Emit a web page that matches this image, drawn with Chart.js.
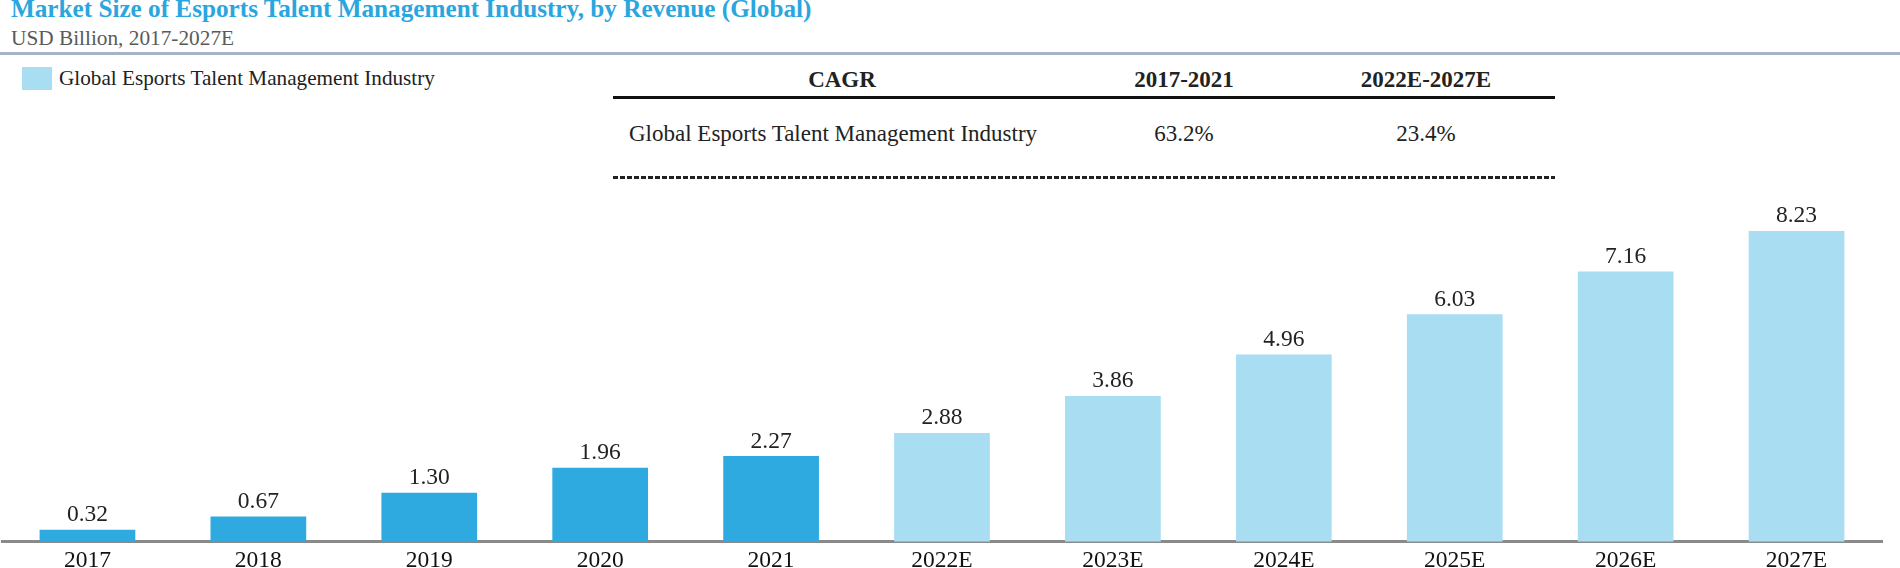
<!DOCTYPE html>
<html>
<head>
<meta charset="utf-8">
<script src="https://cdn.jsdelivr.net/npm/chart.js@4.4.0/dist/chart.umd.min.js"></script>
<style>
  body { margin: 0; width: 1900px; height: 568px; overflow: hidden; background: #fff; position: relative;
         font-family: "Liberation Serif", "Times New Roman", serif; }
  .abs { position: absolute; white-space: nowrap; }
  #title { left: 11px; top: -5px; font-size: 25.2px; font-weight: bold; color: #2aa6df; }
  #subtitle { left: 11px; top: 26px; font-size: 21.3px; color: #5a5a5a; }
  #rule { left: 0; top: 52px; width: 1900px; height: 3px; background: #a4b2ca; }
  #legendBox { left: 22px; top: 67px; width: 30px; height: 23px; background: #a8ddf2; }
  #legendText { left: 59px; top: 66px; font-size: 21.2px; color: #222; }
  #cagr { left: 613px; top: 64px; width: 942px; border-collapse: collapse; font-size: 23px; color: #222; }
  #cagr th { font-weight: bold; height: 32px; padding: 0; border-bottom: 3px solid #111; }
  #cagr td { height: 70px; padding: 0; }
  #dots { left: 613px; top: 176px; width: 942px; height: 3px;
          background: repeating-linear-gradient(90deg, #222 0 5px, transparent 5px 7px); }
  #chart { position: absolute; left: 0; top: 180px; }
</style>
</head>
<body>
<div id="title" class="abs"></div>
<div id="subtitle" class="abs"></div>
<div id="rule" class="abs"></div>
<div id="legendBox" class="abs"></div>
<div id="legendText" class="abs"></div>
<table id="cagr" class="abs"></table>
<div id="dots" class="abs"></div>
<canvas id="chart" width="1900" height="398"></canvas>

<script>
// --- Datos ---
const chartTitle = "Market Size of Esports Talent Management Industry, by Revenue (Global)";
const chartSubtitle = "USD Billion, 2017-2027E";
const seriesName = "Global Esports Talent Management Industry";
const years = ["2017", "2018", "2019", "2020", "2021", "2022E", "2023E", "2024E", "2025E", "2026E", "2027E"];
const revenue = [0.32, 0.67, 1.30, 1.96, 2.27, 2.88, 3.86, 4.96, 6.03, 7.16, 8.23];

const cagrHeader = "CAGR";
const cagrPeriods = ["2017-2021", "2022E-2027E"];
const cagrValues = ["63.2%", "23.4%"];

const DARK = "#2eaae1";
const LIGHT = "#a8ddf2";
const FONT = '"Liberation Serif", "Times New Roman", serif';

// --- Textos ---
document.getElementById("title").textContent = chartTitle;
document.getElementById("subtitle").textContent = chartSubtitle;
document.getElementById("legendText").textContent = seriesName;

// tabla CAGR
const table = document.getElementById("cagr");
let html = '<tr><th style="width:458px">' + cagrHeader + '</th>';
html += '<th style="width:226px">' + cagrPeriods[0] + '</th>';
html += '<th>' + cagrPeriods[1] + '</th></tr>';
html += '<tr><td style="padding-left:16px">' + seriesName + '</td>';
html += '<td style="text-align:center">' + cagrValues[0] + '</td>';
html += '<td style="text-align:center">' + cagrValues[1] + '</td></tr>';
table.innerHTML = html;

// --- Etiquetas de valor sobre las barras ---
const valueLabels = {
  id: "valueLabels",
  afterDatasetsDraw(chart) {
    const ctx = chart.ctx;
    const meta = chart.getDatasetMeta(0);
    ctx.save();
    ctx.font = "23.5px " + FONT;
    ctx.fillStyle = "#222";
    ctx.textAlign = "center";
    ctx.textBaseline = "bottom";
    meta.data.forEach((bar, i) => {
      ctx.fillText(revenue[i].toFixed(2), bar.x, bar.y - 3);
    });
    ctx.restore();
  }
};

new Chart(document.getElementById("chart").getContext("2d"), {
  type: "bar",
  data: {
    labels: years,
    datasets: [{
      label: seriesName,
      data: revenue,
      backgroundColor: ctx => years[ctx.dataIndex].endsWith("E") ? LIGHT : DARK,
      barPercentage: 1,
      categoryPercentage: 0.56
    }]
  },
  options: {
    responsive: false,
    animation: false,
    devicePixelRatio: 1,
    layout: { padding: { left: 2, right: 18, top: 22, bottom: 6 } },
    plugins: { legend: { display: false }, tooltip: { enabled: false } },
    scales: {
      x: {
        grid: { display: false },
        border: { display: true, color: "#8a8a8a", width: 3 },
        ticks: { font: { family: FONT, size: 23.5 }, color: "#111", padding: -3 }
      },
      y: { display: false, min: 0, max: 9 }
    }
  },
  plugins: [valueLabels]
});
</script>
</body>
</html>
